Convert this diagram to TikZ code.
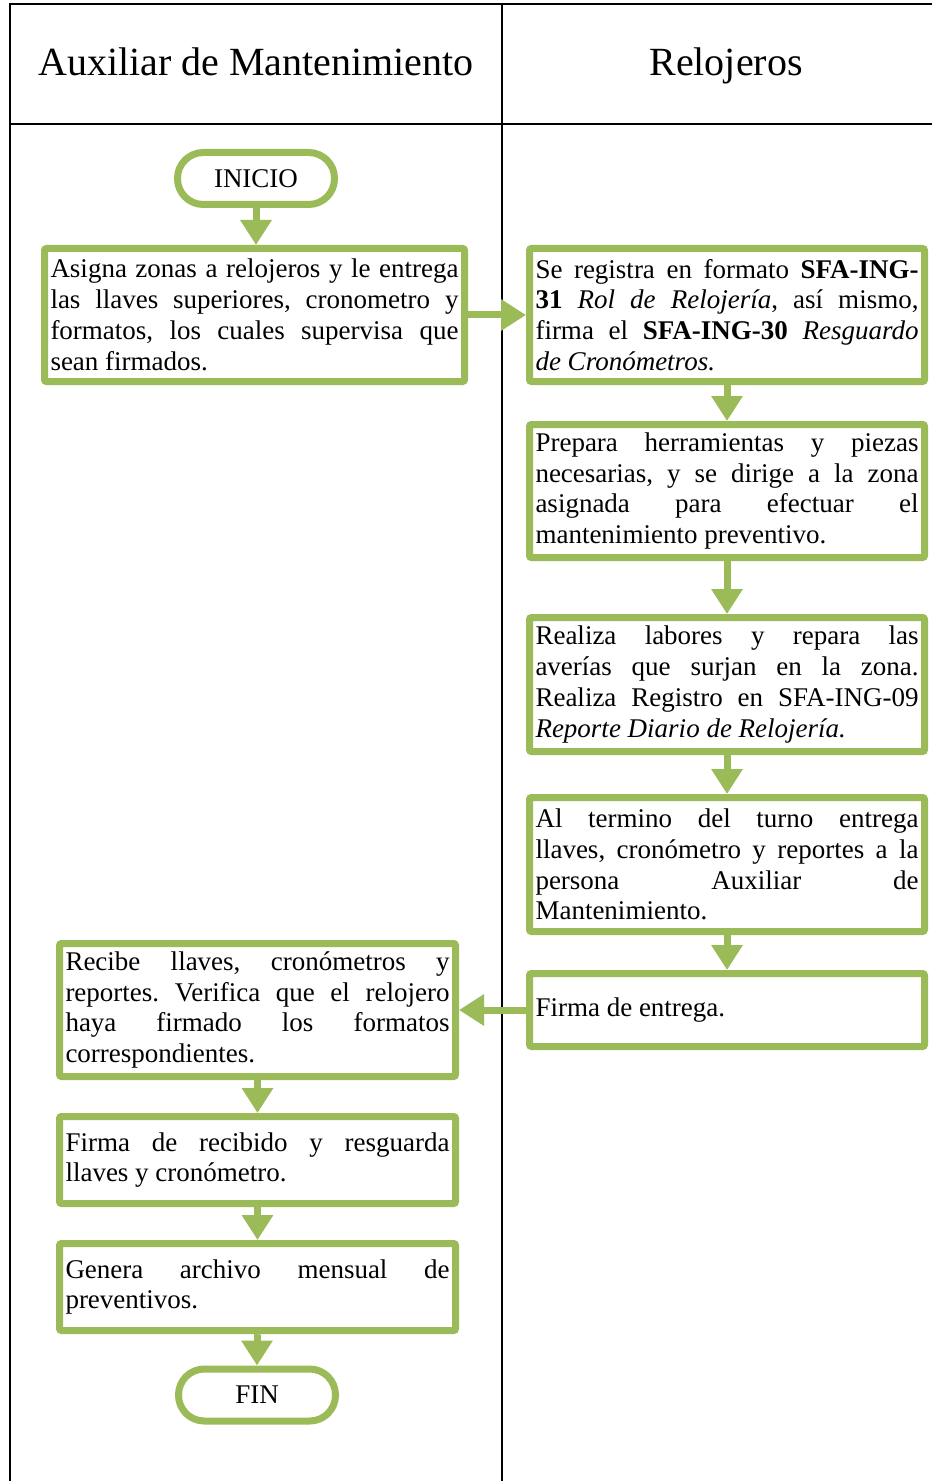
\documentclass[tikz,border=0pt]{standalone}
\usepackage{fontspec}
\setmainfont{Liberation Serif}
\usetikzlibrary{arrows.meta}
\definecolor{verdeolivo}{HTML}{9BBB59}
\hbadness=10000
\hyphenpenalty=10000
\frenchspacing
\begin{document}
\begin{tikzpicture}[x=0.5pt, y=-0.5pt,
    caja/.style={draw=verdeolivo, line width=3.5pt, rounded corners=1pt, fill=white,
        align=justify, inner xsep=3pt, inner ysep=1pt, font=\fontsize{13.5}{15.4}\selectfont},
    cajader/.style={caja, text width=191.5pt},
    cajaizq/.style={caja, text width=192pt},
    terminal/.style={draw=verdeolivo, line width=3.5pt, rounded corners=12.9pt, fill=white,
        minimum width=78.5pt, minimum height=26pt, font=\fontsize{13.5}{15.4}\selectfont},
    flecha/.style={verdeolivo, line width=3.5pt, -{Triangle[width=15pt,length=12.5pt]}},
    titulo/.style={anchor=base, font=\fontsize{20}{24}\selectfont}]
    \useasboundingbox (0,0) rectangle (932,1481);
    % carriles
    \draw[line width=1pt] (932,4) -- (10,4) -- (10,1481);
    \draw[line width=1pt] (10,124) -- (932,124);
    \draw[line width=1pt] (502,4) -- (502,1481);
    \node[titulo] (carril1) at (256,76) {Auxiliar de Mantenimiento};
    \node[titulo] (carril2) at (726,76) {Relojeros};

    \node[terminal] (inicio) at (256,178.5) {INICIO};
    \node[caja, text width=204pt, minimum height=66.5pt] (asigna) at (254.5,315)
        {Asigna zonas a relojeros y le entrega\linebreak las llaves superiores, cronometro y\linebreak formatos, los cuales supervisa que\linebreak sean firmados.};
    \node[cajader, minimum height=66.5pt] (registra) at (727,315)
        {Se registra en formato \textbf{SFA-ING-}\linebreak \textbf{31} \textit{Rol de Relojería}, así mismo,\linebreak firma el \textbf{SFA-ING-30} \textit{Resguardo}\linebreak \textit{de Cronómetros.}};
    \node[cajader, minimum height=66.5pt] (prepara) at (727,491)
        {Prepara herramientas y piezas\linebreak necesarias, y se dirige a la zona\linebreak asignada para efectuar el\linebreak mantenimiento preventivo.};
    \node[cajader, minimum height=67pt] (labores) at (727,684.5)
        {Realiza labores y repara las\linebreak averías que surjan en la zona.\linebreak Realiza Registro en SFA-ING-09\linebreak \textit{Reporte Diario de Relojería.}};
    \node[cajader, minimum height=67pt] (termino) at (727,864.5)
        {Al termino del turno entrega\linebreak llaves, cronómetro y reportes a la\linebreak persona Auxiliar de\linebreak Mantenimiento.};
    \node[cajader, minimum height=36.5pt] (entrega) at (727,1010) {Firma de entrega.};
    \node[cajaizq, minimum height=66.5pt] (recibe) at (257.5,1010)
        {Recibe llaves, cronómetros y\linebreak reportes. Verifica que el relojero\linebreak haya firmado los formatos\linebreak correspondientes.};
    \node[cajaizq, minimum height=43.5pt] (resguarda) at (257.5,1160)
        {Firma de recibido y resguarda\linebreak llaves y cronómetro.};
    \node[cajaizq, minimum height=43.5pt] (archivo) at (257.5,1287)
        {Genera archivo mensual de\linebreak preventivos.};
    \node[terminal] (fin) at (257,1395) {FIN};

    \draw[flecha] (inicio.south) -- (inicio.south |- asigna.north);
    \draw[flecha] (asigna.east) -- (registra.west);
    \draw[flecha] (registra) -- (prepara);
    \draw[flecha] (prepara) -- (labores);
    \draw[flecha] (labores) -- (termino);
    \draw[flecha] (termino) -- (entrega);
    \draw[flecha] (entrega.west) -- (recibe.east);
    \draw[flecha] (recibe) -- (resguarda);
    \draw[flecha] (resguarda) -- (archivo);
    \draw[flecha] (archivo.south) -- (archivo.south -| fin.north) -- (fin.north);
\end{tikzpicture}
\end{document}
